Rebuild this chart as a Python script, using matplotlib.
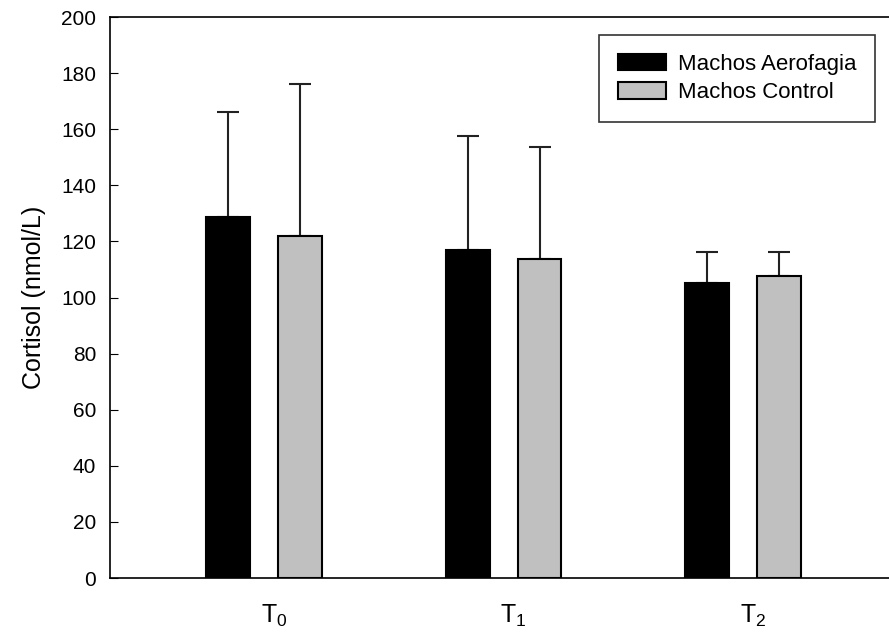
import numpy as np
import matplotlib.pyplot as plt
from matplotlib.transforms import ScaledTranslation

plt.rcParams['font.family'] = ['Liberation Sans', 'DejaVu Sans']
plt.rcParams['mathtext.fontset'] = 'custom'
plt.rcParams['mathtext.rm'] = 'Liberation Sans'
plt.rcParams['mathtext.it'] = 'Liberation Sans'

# ==========================================
# DATA
# ==========================================
times = ['T$_0$', 'T$_1$', 'T$_2$']
aerofagia_mean = [128.7, 117.0, 105.2]
aerofagia_err = [37.5, 40.5, 11.0]
control_mean = [122.0, 113.7, 107.7]
control_err = [54.2, 40.0, 8.7]

# ==========================================
# PLOT
# ==========================================
fig = plt.figure(figsize=(8.89, 6.37), dpi=100)
ax = fig.add_axes([0.1237, 0.0926, 0.8763, 0.8807])

x = np.arange(len(times))
w = 0.183
off = 0.15

ax.bar(x - off, aerofagia_mean, w, color='black', edgecolor='black', lw=1.5,
       label='Machos Aerofagia', zorder=2)
ax.bar(x + off, control_mean, w, color='#c0c0c0', edgecolor='black', lw=1.5,
       label='Machos Control', zorder=2)

# upper error bars only
ax.errorbar(x - off, aerofagia_mean, yerr=[np.zeros(3), aerofagia_err], fmt='none',
            ecolor='#222222', elinewidth=1.5, capsize=8, capthick=1.5, zorder=1)
ax.errorbar(x + off, control_mean, yerr=[np.zeros(3), control_err], fmt='none',
            ecolor='#222222', elinewidth=1.5, capsize=8, capthick=1.5, zorder=1)

ax.set_xlim(-0.642, 2.608)
ax.set_ylim(0, 200)
ax.set_yticks(range(0, 201, 20))
ax.set_xticks(x)
ax.set_xticklabels(times, fontsize=18)
ax.tick_params(axis='x', length=0, pad=18)
ax.tick_params(axis='y', direction='in', length=6, labelsize=15, pad=10)
ax.set_ylabel('Cortisol (nmol/L)', fontsize=18, labelpad=11)

# x labels sit slightly right of the group centre in the original
shift = ScaledTranslation(10 / 100, 0, fig.dpi_scale_trans)
for lbl in ax.get_xticklabels():
    lbl.set_transform(lbl.get_transform() + shift)

ax.spines['right'].set_visible(False)
for s in ['left', 'bottom', 'top']:
    ax.spines[s].set_linewidth(1.2)

leg = ax.legend(loc='upper right', bbox_to_anchor=(0.982, 0.968), fontsize=16,
                frameon=True, fancybox=False, edgecolor='black',
                handlelength=2.2, handleheight=0.77, handletextpad=0.5,
                borderpad=0.85, labelspacing=0.33, borderaxespad=0)
leg.get_frame().set_linewidth(1.2)

plt.savefig('out.png', dpi=100)
